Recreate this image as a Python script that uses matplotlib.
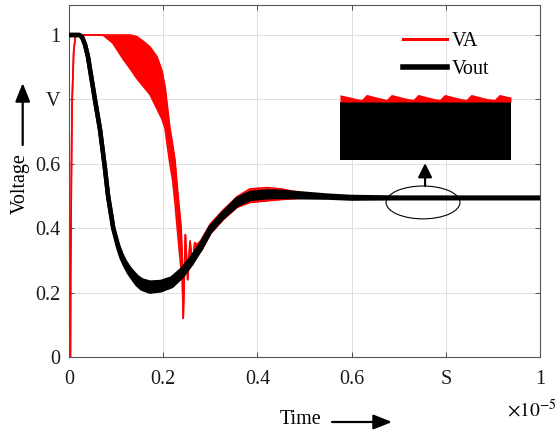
import matplotlib
matplotlib.use("Agg")
import matplotlib.pyplot as plt
from matplotlib.patches import Ellipse, FancyArrowPatch
from matplotlib.lines import Line2D

plt.rcParams['font.family'] = ['Liberation Serif', 'DejaVu Serif']
plt.rcParams['mathtext.fontset'] = 'stix'

# ---- data (time in units of 1e-5 s) ----
va_t = [0.000, 0.003, 0.0035, 0.005, 0.0065, 0.010, 0.014,
        0.072, 0.093, 0.115, 0.130, 0.144, 0.158, 0.172, 0.187, 0.197, 0.204, 0.208,
        0.214, 0.220, 0.225, 0.231, 0.238, 0.240,
        0.2425, 0.247, 0.252, 0.257, 0.262, 0.267, 0.272,
        0.280, 0.300, 0.327, 0.357, 0.384, 0.420, 0.450, 0.500, 0.550, 0.600, 1.000]
va_lo = [0.0, 0.0, 0.25, 0.55, 0.79, 0.95, 1.0,
         1.0, 0.975, 0.925, 0.895, 0.865, 0.84, 0.815, 0.77, 0.74, 0.71, 0.665,
         0.602, 0.55, 0.48, 0.38, 0.27, 0.27,
         0.12, 0.38, 0.24, 0.36, 0.285, 0.355, 0.325,
         0.328, 0.382, 0.426, 0.465, 0.480, 0.485, 0.489, 0.494, 0.494, 0.492, 0.493]
va_hi = [0.0, 0.0, 0.25, 0.55, 0.79, 0.95, 1.0,
         1.0, 1.0, 1.0, 1.0, 0.995, 0.98, 0.963, 0.932, 0.891, 0.839, 0.789,
         0.714, 0.66, 0.612, 0.51, 0.404, 0.33,
         0.12, 0.38, 0.24, 0.36, 0.285, 0.355, 0.35,
         0.362, 0.413, 0.456, 0.498, 0.522, 0.526, 0.522, 0.508, 0.503, 0.498, 0.495]

vo_t = [0.000, 0.022, 0.028, 0.034, 0.040, 0.045, 0.055, 0.066, 0.076, 0.083,
        0.094, 0.104, 0.111, 0.119, 0.127, 0.136, 0.145, 0.155, 0.172, 0.195,
        0.218, 0.240, 0.260, 0.280, 0.300, 0.327, 0.357, 0.384, 0.420, 0.450,
        0.500, 0.550, 0.600, 0.700, 1.000]
vo_lo = [1.0, 1.0, 0.993, 0.97, 0.935, 0.89, 0.80, 0.705, 0.59, 0.50,
         0.40, 0.342, 0.31, 0.284, 0.262, 0.243, 0.225, 0.212, 0.203, 0.207,
         0.220, 0.25, 0.29, 0.336, 0.39, 0.434, 0.472, 0.491, 0.496, 0.497,
         0.496, 0.495, 0.492, 0.493, 0.493]
vo_hi = [1.0, 1.0, 0.993, 0.97, 0.935, 0.89, 0.80, 0.705, 0.59, 0.50,
         0.40, 0.348, 0.32, 0.296, 0.278, 0.262, 0.248, 0.238, 0.231, 0.233,
         0.244, 0.272, 0.308, 0.35, 0.402, 0.446, 0.490, 0.509, 0.514, 0.513,
         0.507, 0.501, 0.497, 0.495, 0.495]

# zoomed inset (ripple detail near t = 0.7-0.8)
ins_t = [0.700, 0.705, 0.710, 0.713, 0.716, 0.721, 0.726, 0.728, 0.731, 0.736,
         0.741, 0.744, 0.747, 0.752, 0.757, 0.760, 0.763, 0.768, 0.773, 0.776,
         0.779, 0.784, 0.789, 0.793, 0.796, 0.800, 0.803]
ins_va = [0.49576, 0.49567, 0.49557,
          0.49553, 0.49578, 0.49567, 0.49557,
          0.49553, 0.49578, 0.49567, 0.49557,
          0.49553, 0.49578, 0.49567, 0.49557,
          0.49553, 0.49578, 0.49567, 0.49557,
          0.49553, 0.49578, 0.49567, 0.49557,
          0.49553, 0.49578, 0.49570, 0.49565]
ins_vo_hi = 0.49542
ins_vo_lo = 0.49250

x_ticks = [0, 0.2, 0.4, 0.6, 0.8, 1.0]
x_ticklabels = ['0', '0.2', '0.4', '0.6', 'S', '1']
y_ticks = [0, 0.2, 0.4, 0.6, 0.8, 1.0]
y_ticklabels = ['0', '0.2', '0.4', '0.6', 'V', '1']

W, H = 559, 434
FS = 14.5
RED = '#ff0000'

fig = plt.figure(figsize=(W / 100, H / 100), dpi=100)
ax = fig.add_axes([69 / W, 77 / H, 471 / W, 352 / H])

ax.fill_between(va_t, va_lo, va_hi, color=RED, lw=0, zorder=2)
ax.plot(va_t, va_hi, color=RED, lw=1.2, zorder=2)
ax.plot(va_t, va_lo, color=RED, lw=1.2, zorder=2)

ax.fill_between(vo_t, vo_lo, vo_hi, color='black', lw=0, zorder=3)
ax.plot(vo_t, vo_hi, color='black', lw=3.2, zorder=3, solid_capstyle='butt')
ax.plot(vo_t, vo_lo, color='black', lw=3.2, zorder=3, solid_capstyle='butt')

ax.set_xlim(0, 1)
ax.set_ylim(0, 352 / 322)
ax.set_xticks(x_ticks)
ax.set_xticklabels(x_ticklabels)
ax.set_yticks(y_ticks)
ax.set_yticklabels(y_ticklabels)
ax.grid(True, color='#dedede', lw=0.7)
ax.set_axisbelow(True)
ax.tick_params(direction='in', length=3.6, width=0.6, top=True, right=True,
               labelsize=FS, colors='#333333', labelcolor='#1a1a1a')
ax.tick_params(axis='x', pad=9)
ax.tick_params(axis='y', pad=6)
for s in ax.spines.values():
    s.set_color('#555555')
    s.set_linewidth(0.8)

# ellipse marking the zoomed region and arrow to inset
ax.add_patch(Ellipse((0.7516, 0.48), 0.157, 0.102, fill=False, ec='black', lw=0.8, zorder=5))
ax.annotate('', xy=(0.756, 0.602), xytext=(0.756, 0.531),
            arrowprops=dict(arrowstyle='-|>,head_length=0.7,head_width=0.35',
                            mutation_scale=12, lw=1.6, color='black',
                            shrinkA=0, shrinkB=0), zorder=6)

# legend
handles = [Line2D([], [], color=RED, lw=2.2), Line2D([], [], color='black', lw=4)]
ax.legend(handles, ['VA', 'Vout'], loc='upper left', frameon=False, fontsize=FS,
          bbox_to_anchor=(403 / W, 1 - 32 / H), bbox_transform=fig.transFigure,
          handlelength=2.2, handletextpad=0.2, labelspacing=0.42, borderpad=0,
          borderaxespad=0)

# inset
ax_in = fig.add_axes([340 / W, 1 - 160 / H, 171 / W, 68 / H])
ax_in.fill_between(ins_t, ins_vo_lo, ins_vo_hi, color='black', lw=0)
ax_in.fill_between(ins_t, ins_vo_hi - 0.00002, ins_va, color=RED, lw=0)
ax_in.set_xlim(ins_t[0], ins_t[-1])
ax_in.set_ylim(0.4925, 0.4959)
ax_in.axis('off')

# axis labels with arrows
fig.text(20 / W, 1 - 184 / H, 'Voltage', rotation=90, ha='center', va='center', fontsize=FS)
fig.text(280 / W, 1 - 420 / H, 'Time', ha='left', va='center', fontsize=FS)
arrow_kw = dict(arrowstyle='-|>,head_length=0.75,head_width=0.3', mutation_scale=15,
                lw=1.6, color='black', shrinkA=0, shrinkB=0)
fig.add_artist(FancyArrowPatch((22.7 / W, 1 - 145 / H), (22.7 / W, 1 - 83 / H),
                               transform=fig.transFigure, **arrow_kw))
fig.add_artist(FancyArrowPatch((332 / W, 1 - 422 / H), (392 / W, 1 - 422 / H),
                               transform=fig.transFigure, **arrow_kw))
fig.text(507 / W, 1 - 410 / H, r'$\times10^{-5}$', ha='left', va='center', fontsize=FS - 0.5)

fig.savefig('out.png', dpi=100)
